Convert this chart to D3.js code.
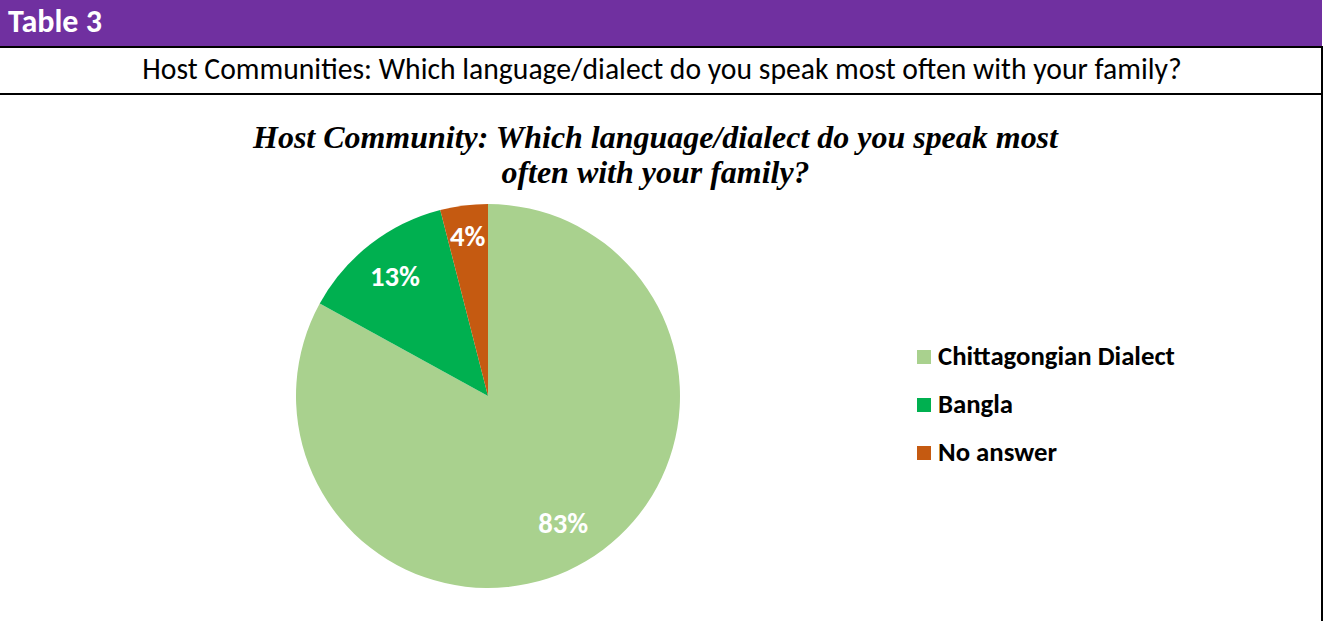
<!DOCTYPE html>
<html><head><meta charset="utf-8">
<script src="https://cdn.jsdelivr.net/npm/d3@7"></script>
<style>html,body{margin:0;padding:0;background:#fff;overflow:hidden}</style>
</head><body>
<script>
const categories = ["Chittagongian Dialect", "Bangla", "No answer"];
const values = [83, 13, 4];
const valueLabels = ["83%", "13%", "4%"];
const colors = ["#A9D18E", "#00B050", "#C55A11"];
const headerText = "Table 3";
const subtitleText = "Host Communities: Which language/dialect do you speak most often with your family?";
const titleLines = ["Host Community: Which language/dialect do you speak most", "often with your family?"];

const W = 1325, H = 621;
const uiFont = "Carlito, Calibri, 'Open Sans', sans-serif";
const svg = d3.select("body").append("svg").attr("width", W).attr("height", H);

function fit(sel, target) {
  const n = sel.node();
  const w = n.getComputedTextLength();
  const fs = parseFloat(sel.attr("font-size"));
  sel.attr("font-size", fs * target / w);
}

// header band
svg.append("rect").attr("x", 0).attr("y", 0).attr("width", 1322).attr("height", 47).attr("fill", "#7030A0");
const ht = svg.append("text").attr("x", 8).attr("y", 32).attr("font-family", uiFont)
  .attr("font-weight", "bold").attr("font-size", 26).attr("fill", "#fff").text(headerText);
fit(ht, 94);
svg.append("line").attr("x1", 0).attr("x2", 1323).attr("y1", 47).attr("y2", 47).attr("stroke", "#000").attr("stroke-width", 2);
svg.append("line").attr("x1", 0).attr("x2", 1323).attr("y1", 94).attr("y2", 94).attr("stroke", "#000").attr("stroke-width", 2);
svg.append("line").attr("x1", 1322).attr("x2", 1322).attr("y1", 46).attr("y2", H).attr("stroke", "#000").attr("stroke-width", 2);

const st = svg.append("text").attr("x", 662).attr("y", 79).attr("text-anchor", "middle")
  .attr("font-family", uiFont).attr("font-size", 22).attr("fill", "#000").text(subtitleText);
fit(st, 1040);

// chart title
const tl1 = svg.append("text").attr("x", 655.5).attr("y", 148).attr("text-anchor", "middle")
  .attr("font-family", "'Liberation Serif', 'Times New Roman', serif").attr("font-weight", "bold")
  .attr("font-style", "italic").attr("font-size", 27).attr("fill", "#000").text(titleLines[0]);
fit(tl1, 805);
svg.append("text").attr("x", 655.5).attr("y", 183).attr("text-anchor", "middle")
  .attr("font-family", "'Liberation Serif', 'Times New Roman', serif").attr("font-weight", "bold")
  .attr("font-style", "italic").attr("font-size", tl1.attr("font-size")).attr("fill", "#000").text(titleLines[1]);

// pie
const cx = 488, cy = 396, R = 192;
const labelR = [0.77, 0.79, 0.84];
const pie = d3.pie().sort(null).value(d => d)(values);
const arc = d3.arc().innerRadius(0).outerRadius(R);
const g = svg.append("g").attr("transform", `translate(${cx},${cy})`);
g.selectAll("path").data(pie).join("path").attr("d", arc).attr("fill", (d, i) => colors[i]);
const pl = g.selectAll("text").data(pie).join("text")
  .attr("transform", (d, i) => {
    const c = d3.arc().innerRadius(0).outerRadius(2 * R * labelR[i]).centroid(d);
    return `translate(${c[0]},${c[1]})`;
  })
  .attr("text-anchor", "middle").attr("dy", "0.35em")
  .attr("font-family", uiFont).attr("font-weight", "bold").attr("font-size", 26)
  .attr("fill", "#fff").text((d, i) => valueLabels[i]);
const fsP = 26 * 50 / pl.nodes()[1].getComputedTextLength();
pl.attr("font-size", fsP);

// legend
const lg = svg.append("g").attr("transform", "translate(917,350)");
const items = lg.selectAll("g").data(categories).join("g").attr("transform", (d, i) => `translate(0,${i * 48})`);
items.append("rect").attr("width", 14).attr("height", 14).attr("fill", (d, i) => colors[i]);
const lt = items.append("text").attr("x", 21).attr("y", 15).attr("font-family", uiFont)
  .attr("font-weight", "bold").attr("font-size", 20).attr("fill", "#000").text(d => d);
const fsL = 20 * 237 / lt.nodes()[0].getComputedTextLength();
lt.attr("font-size", fsL);
</script>
</body></html>
